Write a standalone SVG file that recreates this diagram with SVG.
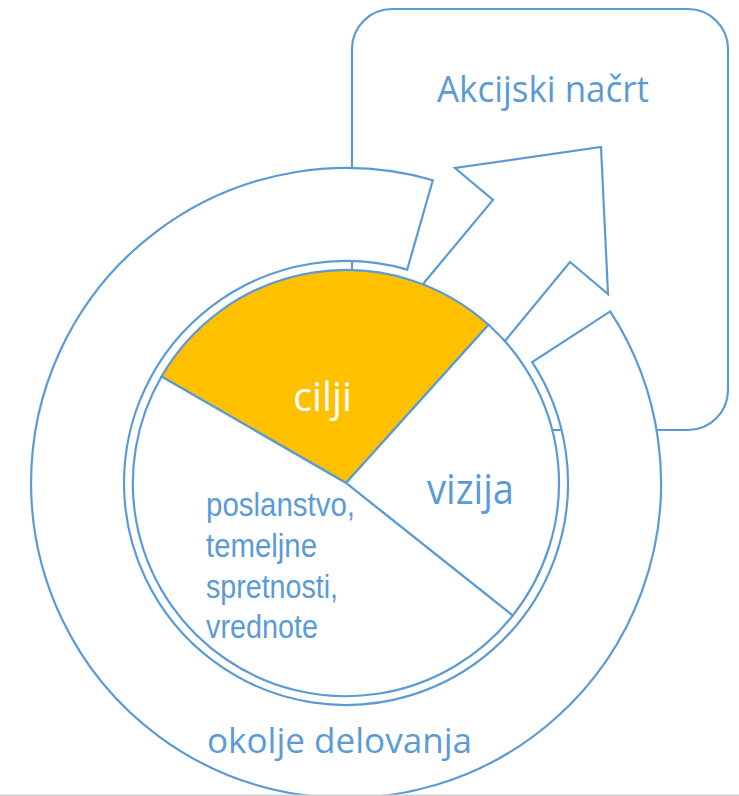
<svg xmlns="http://www.w3.org/2000/svg" width="739" height="796" viewBox="0 0 739 796">
<style>
.ln{stroke:#5B9BD5;stroke-width:2.2;stroke-linejoin:miter}
.w{fill:#FFFFFF}
.t{font-family:"Open Sans","Noto Sans",sans-serif;fill:#5B9BD5}
.a{font-family:"Liberation Sans",Arial,sans-serif;fill:#5B9BD5;font-size:34px}
</style>
<rect width="739" height="796" fill="#FFFFFF"/>
<g id="akcijski-nacrt">
<rect class="ln" x="352" y="9" width="376" height="421" rx="40" ry="40" fill="none"/>
<text class="t" x="437" y="102" font-size="37" textLength="212" lengthAdjust="spacingAndGlyphs">Akcijski načrt</text>
</g>
<g id="okolje-delovanja">
<path class="ln w" d="M610.2,311.4 A315,315 0 1 1 432.8,180.2 L407.2,269.6 A222,222 0 1 0 532.2,362.1 Z"/>
<text class="t" x="207" y="753" font-size="35" textLength="265" lengthAdjust="spacingAndGlyphs">okolje delovanja</text>
</g>
<g id="connectors">
<path class="ln w" d="M423,284 L493,200 L455,168 L601,147 L608,294 L570,262 L505,341 Z"/>
</g>
<g id="cilji">
<path class="ln" fill="#FFC000" d="M346,483 L161.5,376.5 A213,213 0 0 1 488.5,324.7 Z"/>
<text x="293" y="411" font-family="Open Sans, Noto Sans, sans-serif" font-size="40" fill="#FFFFFF" textLength="59" lengthAdjust="spacingAndGlyphs">cilji</text>
</g>
<g id="vizija">
<path class="ln w" d="M346,483 L488.5,324.7 A213,213 0 0 1 512.7,615.6 Z"/>
<text class="t" x="427" y="504" font-size="42" textLength="87" lengthAdjust="spacingAndGlyphs">vizija</text>
</g>
<g id="poslanstvo">
<path class="ln w" d="M346,483 L512.7,615.6 A213,213 0 0 1 161.5,376.5 Z"/>
<text class="a" x="206" y="516" textLength="149" lengthAdjust="spacingAndGlyphs">poslanstvo,</text>
<text class="a" x="206" y="557" textLength="111" lengthAdjust="spacingAndGlyphs">temeljne</text>
<text class="a" x="206" y="598" textLength="132" lengthAdjust="spacingAndGlyphs">spretnosti,</text>
<text class="a" x="206" y="638" textLength="112" lengthAdjust="spacingAndGlyphs">vrednote</text>
</g>
<rect x="0" y="794.5" width="739" height="1.5" fill="#D0D0D0"/>
</svg>
